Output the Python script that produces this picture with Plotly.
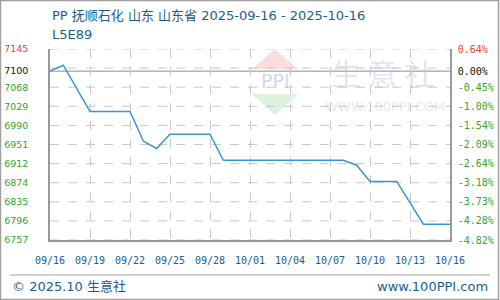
import plotly.graph_objects as go

# ---- data ----
dates = ["2025-09-16","2025-09-17","2025-09-18","2025-09-19","2025-09-20","2025-09-21",
         "2025-09-22","2025-09-23","2025-09-24","2025-09-25","2025-09-26","2025-09-27",
         "2025-09-28","2025-09-29","2025-09-30","2025-10-01","2025-10-02","2025-10-03",
         "2025-10-04","2025-10-05","2025-10-06","2025-10-07","2025-10-08","2025-10-09",
         "2025-10-10","2025-10-11","2025-10-12","2025-10-13","2025-10-14","2025-10-15",
         "2025-10-16"]
prices = [7100, 7112, 7065, 7018, 7018, 7018,
          7018, 6958, 6943, 6972, 6972, 6972,
          6972, 6919, 6919, 6919, 6919, 6919,
          6919, 6919, 6919, 6919, 6919, 6909,
          6876, 6876, 6876, 6833, 6789, 6789,
          6789]

base_price = 7100
y_min, y_max = 6757, 7145
left_tick_vals = [7145, 7100, 7067.4, 7028.6, 6989.8, 6951, 6912.2, 6873.4, 6834.6, 6795.8, 6757]
left_tick_text = ["7145", "7100", "7068", "7029", "6990", "6951", "6912", "6874", "6835", "6796", "6757"]
right_tick_text = ["0.64%", "0.00%", "-0.45%", "-1.00%", "-1.54%", "-2.09%", "-2.64%",
                   "-3.18%", "-3.73%", "-4.28%", "-4.82%"]
grid_vals = [7145 - k * 38.8 for k in range(11)]
x_tick_vals = ["2025-09-16","2025-09-19","2025-09-22","2025-09-25","2025-09-28","2025-10-01",
               "2025-10-04","2025-10-07","2025-10-10","2025-10-13","2025-10-16"]
x_tick_text = ["09/16","09/19","09/22","09/25","09/28","10/01","10/04","10/07","10/10","10/13","10/16"]

title_text = "PP 抚顺石化 山东 山东省 2025-09-16 - 2025-10-16"
subtitle_text = "L5E89"
footer_left = "© 2025.10 生意社"
footer_right = "www.100PPI.com"

RED, BLACK, GREEN = "#f03c3c", "#111111", "#2ea82e"
BLUE_TXT = "#1b5e8e"

def colour(v):
    if v > base_price:
        return RED
    if v == base_price:
        return BLACK
    return GREEN

left_colored = [f"<span style='color:{colour(v)}'>{t}</span>" for v, t in zip(left_tick_vals, left_tick_text)]
right_colored = [f"<span style='color:{colour(v)}'>{t}</span>" for v, t in zip(left_tick_vals, right_tick_text)]
pct_vals = [(v - base_price) / base_price * 100 for v in left_tick_vals]
pct_range = [(y_min - base_price) / base_price * 100, (y_max - base_price) / base_price * 100]

fig = go.Figure()
fig.add_trace(go.Scatter(x=dates, y=prices, mode="lines",
                         line=dict(color="#3a95d6", width=1.5), hoverinfo="skip"))
fig.add_trace(go.Scatter(x=[dates[0]], y=[pct_vals[1]], yaxis="y2", mode="markers",
                         marker=dict(opacity=0), hoverinfo="skip"))

# watermark logo
shapes = []
wm = [
    ("M 0.5625 1.0 L 0.505 0.895 L 0.62 0.895 Z", "rgba(240,120,120,0.25)"),
    ("M 0.5625 0.655 L 0.505 0.765 L 0.62 0.765 Z", "rgba(120,200,120,0.25)"),
]
for p, c in wm:
    shapes.append(dict(type="path", path=p, xref="paper", yref="paper",
                       fillcolor=c, line=dict(width=0), layer="below"))

# horizontal dashed grid
for g in grid_vals:
    shapes.append(dict(type="line", xref="paper", x0=0, x1=1, yref="y", y0=g, y1=g,
                       line=dict(color="#c8c8c8", width=1, dash="dash"), layer="below"))
# baseline
shapes.append(dict(type="line", xref="paper", x0=0, x1=1, yref="y", y0=base_price, y1=base_price,
                   line=dict(color="#8c8c8c", width=1), layer="below"))
# footer rule
shapes.append(dict(type="line", xref="paper", yref="paper", x0=-0.1, x1=1.1, y0=-0.183, y1=-0.183,
                   line=dict(color="#a0a0a0", width=1)))
# outer border
shapes.append(dict(type="rect", xref="paper", yref="paper", x0=-0.1238, x1=1.1213,
                   y0=-0.3115, y1=1.2539, line=dict(color="#a0a0a0", width=1.5)))

annotations = [
    dict(text=title_text, xref="paper", yref="paper", x=0, y=1.178, xanchor="left",
         yanchor="middle", showarrow=False,
         font=dict(family="DejaVu Sans, Noto Sans CJK SC", size=13, color=BLUE_TXT)),
    dict(text=subtitle_text, xref="paper", yref="paper", x=0, y=1.078, xanchor="left",
         yanchor="middle", showarrow=False,
         font=dict(family="DejaVu Sans, Noto Sans CJK SC", size=13, color=BLUE_TXT)),
    dict(text=footer_left, xref="paper", yref="paper", x=-0.1, y=-0.241, xanchor="left",
         yanchor="middle", showarrow=False,
         font=dict(family="DejaVu Sans, Noto Sans CJK SC", size=13, color=BLUE_TXT)),
    dict(text=footer_right, xref="paper", yref="paper", x=1.1, y=-0.241, xanchor="right",
         yanchor="middle", showarrow=False,
         font=dict(family="DejaVu Sans, Noto Sans CJK SC", size=13, color=BLUE_TXT)),
    # watermark texts
    dict(text="PPI", xref="paper", yref="paper", x=0.5625, y=0.83, xanchor="center",
         yanchor="middle", showarrow=False,
         font=dict(family="DejaVu Sans", size=19, color="rgba(150,165,205,0.45)")),
    dict(text="生 意 社", xref="paper", yref="paper", x=0.83, y=0.88, xanchor="center",
         yanchor="middle", showarrow=False,
         font=dict(family="Noto Sans CJK SC", size=30, color="rgba(180,190,212,0.4)")),
    dict(text="WWW.100PPI.COM", xref="paper", yref="paper", x=0.8375, y=0.70, xanchor="center",
         yanchor="middle", showarrow=False,
         font=dict(family="DejaVu Sans", size=13, color="rgba(180,190,212,0.35)")),
]

fig.update_layout(
    width=500, height=300,
    margin=dict(l=50, r=50, t=49, b=60, autoexpand=False),
    paper_bgcolor="white", plot_bgcolor="rgba(0,0,0,0)",
    showlegend=False,
    shapes=shapes, annotations=annotations,
    xaxis=dict(type="date", range=[dates[0], dates[-1]], tickmode="array",
               tickvals=x_tick_vals, ticktext=x_tick_text, automargin=False,
               showgrid=True, gridcolor="#c8c8c8", griddash="dash", gridwidth=1,
               showline=True, linecolor="#999999", linewidth=1.5, zeroline=False,
               ticks="outside", ticklen=0, ticklabelstandoff=10,
               tickfont=dict(family="DejaVu Sans Mono", size=10, color=BLUE_TXT)),
    yaxis=dict(range=[y_min, y_max], tickmode="array", tickvals=left_tick_vals,
               ticktext=left_colored, showgrid=False, zeroline=False, automargin=False,
               showline=True, linecolor="#999999", linewidth=1.5,
               ticks="outside", ticklen=0, ticklabelstandoff=18,
               tickfont=dict(family="DejaVu Sans", size=9.5)),
    yaxis2=dict(range=pct_range, overlaying="y", side="right", tickmode="array",
                tickvals=pct_vals, ticktext=right_colored, showgrid=False, zeroline=False,
                automargin=False,
                showline=True, linecolor="#999999", linewidth=1.5,
                ticks="outside", ticklen=0, ticklabelstandoff=4,
                tickfont=dict(family="DejaVu Sans Mono", size=10)),
)

fig.write_html("out.html")
